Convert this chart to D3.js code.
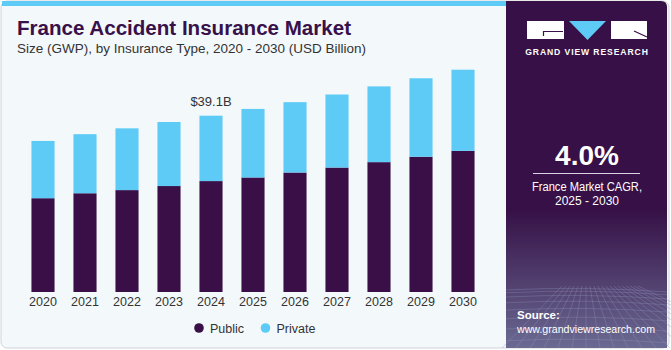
<!DOCTYPE html>
<html>
<head>
<meta charset="utf-8">
<script src="https://cdn.jsdelivr.net/npm/d3@7"></script>
<style>
  body { margin: 0; background: #fff; }
  svg { display: block; font-family: "Liberation Sans", Arial, sans-serif; }
</style>
</head>
<body>
<div id="chart"></div>
<script>
// data (USD billion)
const years = ["2020", "2021", "2022", "2023", "2024", "2025", "2026", "2027", "2028", "2029", "2030"];
const publicValues = [20.8, 21.9, 22.6, 23.5, 24.6, 25.4, 26.5, 27.6, 28.8, 30.0, 31.3];
const privateValues = [12.7, 13.1, 13.7, 14.2, 14.5, 15.2, 15.6, 16.2, 16.8, 17.4, 18.0];
const seriesNames = ["Public", "Private"];
const seriesColors = ["#3a0f48", "#5ecbf7"];

const width = 671, height = 350;
const svg = d3.select("#chart").append("svg")
    .attr("width", width)
    .attr("height", height);

const defs = svg.append("defs");
const grad = defs.append("linearGradient")
    .attr("id", "panelFade")
    .attr("x1", 0).attr("y1", 0).attr("x2", 0).attr("y2", 1);
grad.append("stop").attr("offset", "0").attr("stop-color", "#361046");
grad.append("stop").attr("offset", "0.6").attr("stop-color", "#361046");
grad.append("stop").attr("offset", "1").attr("stop-color", "#6a6a93");

// card
svg.append("rect")
    .attr("x", 1).attr("y", 1)
    .attr("width", 668).attr("height", 347)
    .attr("rx", 6)
    .attr("fill", "#f3f8fb")
    .attr("stroke", "#cfd3d6");

// top blue strip
svg.append("rect")
    .attr("x", 2).attr("y", 1)
    .attr("width", 506).attr("height", 5)
    .attr("fill", "#5ecbf7");

// right panel
svg.append("path")
    .attr("d", "M506,1 H661 Q667,1 667,7 V348 H506 Z")
    .attr("fill", "url(#panelFade)");

// faint grid at the bottom of the panel
const gridG = svg.append("g").attr("stroke", "#8f93b8").attr("stroke-opacity", 0.35).attr("fill", "none");
d3.range(0, 9).forEach(i => {
    const y = 290 + i * i * 0.75 + i * 2;
    gridG.append("path").attr("d", `M506,${y} Q586,${y - 4} 667,${y + 2}`);
});
d3.range(-6, 14).forEach(i => {
    const x = 586 + i * 14;
    gridG.append("line")
        .attr("x1", 586 + i * 4).attr("y1", 286)
        .attr("x2", x).attr("y2", 348);
});

// titles
svg.append("text")
    .attr("x", 17).attr("y", 35)
    .attr("font-size", 20)
    .attr("font-weight", "bold")
    .attr("fill", "#38104a")
    .attr("textLength", 334)
    .attr("lengthAdjust", "spacingAndGlyphs")
    .text("France Accident Insurance Market");

svg.append("text")
    .attr("x", 17).attr("y", 53)
    .attr("font-size", 13)
    .attr("fill", "#333")
    .attr("textLength", 349)
    .attr("lengthAdjust", "spacingAndGlyphs")
    .text("Size (GWP), by Insurance Type, 2020 - 2030 (USD Billion)");

// scales
const x = d3.scaleBand()
    .domain(years)
    .range([22, 484])
    .paddingInner(0.45)
    .paddingOuter(0.225);

const y = d3.scaleLinear()
    .domain([0, 50])
    .range([292, 292 - 50 * 4.509]);

const rows = years.map((yr, i) => ({ year: yr, Public: publicValues[i], Private: privateValues[i] }));
const stacked = d3.stack().keys(seriesNames)(rows);

svg.append("g")
    .selectAll("g")
    .data(stacked)
    .join("g")
    .attr("fill", (d, i) => seriesColors[i])
    .selectAll("rect")
    .data(d => d)
    .join("rect")
    .attr("x", d => x(d.data.year))
    .attr("y", d => y(d[1]))
    .attr("width", x.bandwidth())
    .attr("height", d => y(d[0]) - y(d[1]));

// x axis labels
const xAxis = svg.append("g")
    .attr("transform", "translate(0,292)")
    .call(d3.axisBottom(x).tickSize(0).tickPadding(5));
xAxis.select(".domain").remove();
xAxis.selectAll("text")
    .attr("font-size", 12.5)
    .attr("font-family", "Liberation Sans, Arial, sans-serif")
    .attr("fill", "#333");

// value note over 2024
const noteIndex = years.indexOf("2024");
svg.append("text")
    .attr("x", x("2024") + x.bandwidth() / 2)
    .attr("y", y(publicValues[noteIndex] + privateValues[noteIndex]) - 10)
    .attr("text-anchor", "middle")
    .attr("font-size", 13)
    .attr("fill", "#333")
    .text("$39.1B");

// legend
const legend = svg.append("g")
    .selectAll("g")
    .data(seriesNames)
    .join("g")
    .attr("transform", (d, i) => `translate(${199 + i * 66.5},328)`);
legend.append("circle")
    .attr("r", 4.8)
    .attr("fill", (d, i) => seriesColors[i]);
legend.append("text")
    .attr("x", 11).attr("y", 4.5)
    .attr("font-size", 12.5)
    .attr("fill", "#333")
    .text(d => d);

// logo
const logo = svg.append("g");
logo.append("rect").attr("x", 527).attr("y", 21).attr("width", 37).attr("height", 18).attr("fill", "#fff");
logo.append("path").attr("d", "M569,21 H606 L587.5,40 Z").attr("fill", "#5ecbf7");
logo.append("rect").attr("x", 611).attr("y", 21).attr("width", 36).attr("height", 18).attr("fill", "#fff");
logo.append("path").attr("d", "M543.5,36 V31.5 H563").attr("stroke", "#361046").attr("stroke-width", 1.2).attr("fill", "none");
logo.append("path").attr("d", "M634,31 L647,37").attr("stroke", "#361046").attr("stroke-width", 1.2).attr("fill", "none");
logo.append("text")
    .attr("x", 587).attr("y", 54.5)
    .attr("text-anchor", "middle")
    .attr("font-size", 8.6)
    .attr("font-weight", "bold")
    .attr("letter-spacing", 0.9)
    .attr("fill", "#fff")
    .text("GRAND VIEW RESEARCH");

// CAGR block
svg.append("text")
    .attr("x", 587).attr("y", 165)
    .attr("text-anchor", "middle")
    .attr("font-size", 28)
    .attr("font-weight", "bold")
    .attr("fill", "#fff")
    .text("4.0%");
svg.append("line")
    .attr("x1", 533).attr("x2", 640)
    .attr("y1", 173.5).attr("y2", 173.5)
    .attr("stroke", "#d9d2e0").attr("stroke-width", 1);
svg.append("text")
    .attr("x", 587).attr("y", 190.5)
    .attr("text-anchor", "middle")
    .attr("font-size", 12)
    .attr("fill", "#fff")
    .attr("textLength", 110)
    .attr("lengthAdjust", "spacingAndGlyphs")
    .text("France Market CAGR,");
svg.append("text")
    .attr("x", 587).attr("y", 205)
    .attr("text-anchor", "middle")
    .attr("font-size", 12)
    .attr("fill", "#fff")
    .text("2025 - 2030");

// source
svg.append("text")
    .attr("x", 517).attr("y", 319)
    .attr("font-size", 11.5)
    .attr("font-weight", "bold")
    .attr("fill", "#fff")
    .text("Source:");
svg.append("text")
    .attr("x", 517).attr("y", 333)
    .attr("font-size", 11.5)
    .attr("fill", "#fff")
    .attr("textLength", 138)
    .attr("lengthAdjust", "spacingAndGlyphs")
    .text("www.grandviewresearch.com");
</script>
</body>
</html>
